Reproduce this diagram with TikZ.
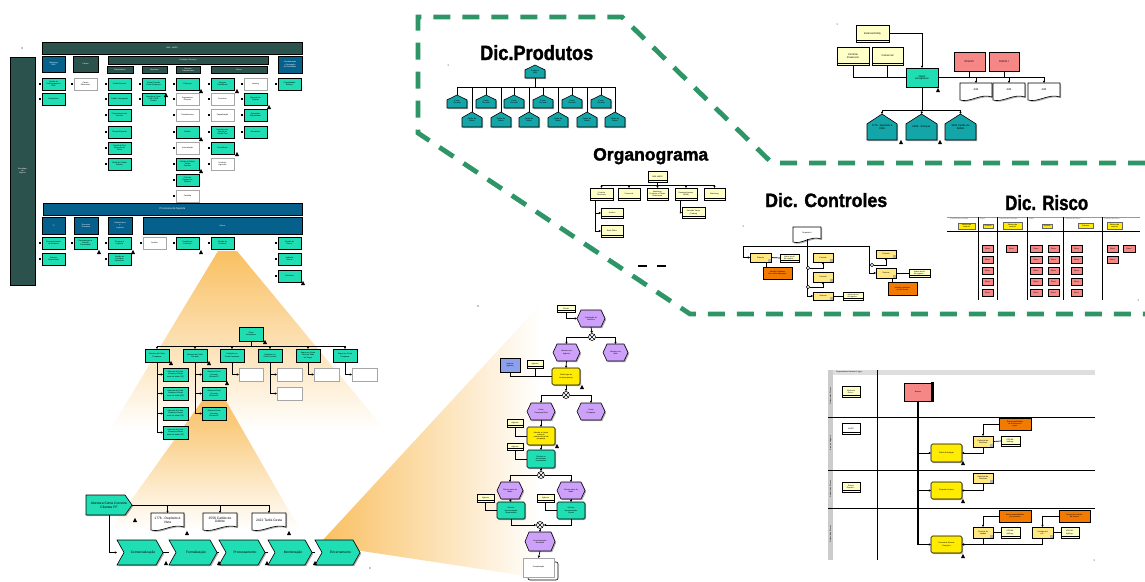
\documentclass[tikz,border=0pt]{standalone}
\usepackage{fontspec}
\setmainfont{Liberation Sans}
\newfontfamily\heavy[BoldFeatures={FakeBold=1.6}]{Liberation Sans}
\usepackage{graphicx}
\usetikzlibrary{arrows.meta,shadows,calc}
\definecolor{fng}{RGB}{32,222,180}
\definecolor{dkt}{RGB}{44,82,78}
\definecolor{blu}{RGB}{6,96,140}
\definecolor{tea}{RGB}{20,165,168}
\definecolor{pyl}{RGB}{255,255,200}
\definecolor{pur}{RGB}{205,160,250}
\definecolor{yel}{RGB}{255,236,0}
\definecolor{lyl}{RGB}{255,232,130}
\definecolor{org}{RGB}{243,122,0}
\definecolor{pnk}{RGB}{245,135,135}
\definecolor{sysb}{RGB}{140,160,235}
\definecolor{dgr}{RGB}{46,150,102}
\definecolor{cone}{RGB}{249,192,98}
\newcommand\fA{\fontsize{1.9}{2.2}\selectfont}
\newcommand\fB{\fontsize{2.6}{3}\selectfont}
\newcommand\fC{\fontsize{3.3}{3.8}\selectfont}
\newcommand\bx[7]{\node[#1,minimum width={(#5)-(#3)},minimum height={(#6)-(#4)}] (#2) at ({((#3)+(#5))/2},{((#4)+(#6))/2}) {#7};}
\newcommand\gb[5]{\bx{#1}{#2}{#3}{#4}{#3+23}{#4+12}{#5}\fill (#3-3.5,#4+5) rectangle (#3-1,#4+7);}
\newcommand\shp[2]{\fill[black!45,opacity=0.7,shift={(1.2,1.2)}] #2;\draw[line width=0.6pt,#1] #2;}
\newcommand\evnt[6]{\pgfmathsetmacro\ym{((#3)+(#5))/2}%
 \shp{fill=pur}{(#2,\ym) -- (#2+4,#3) -- (#4-4,#3) -- (#4,\ym) -- (#4-4,#5) -- (#2+4,#5) -- cycle}%
 \node[base,minimum width={(#4)-(#2)},minimum height={(#5)-(#3)}] (#1) at ({((#2)+(#4))/2},\ym) {#6};}
\newcommand\chv[6]{\pgfmathsetmacro\ym{((#3)+(#5))/2}%
 \shp{fill=fng}{(#2,#3) -- (#4-7,#3) -- (#4,\ym) -- (#4-7,#5) -- (#2,#5) -- (#2+7,\ym) -- cycle}%
 \node[base,font=\fC,minimum width={(#4)-(#2)},minimum height={(#5)-(#3)}] (#1) at ({((#2)+(#4))/2+3},\ym) {#6};}
\newcommand\pnt[6]{\pgfmathsetmacro\ym{((#3)+(#5))/2}%
 \shp{fill=fng}{(#2,#3) -- (#4-7,#3) -- (#4,\ym) -- (#4-7,#5) -- (#2,#5) -- cycle}%
 \node[base,font=\fC,minimum width={(#4)-(#2)},minimum height={(#5)-(#3)}] (#1) at ({((#2)+(#4))/2},\ym) {#6};}
\newcommand\docu[6]{\pgfmathsetmacro\xa{(#2)+0.3*((#4)-(#2))}\pgfmathsetmacro\xb{(#2)+0.65*((#4)-(#2))}%
 \shp{fill=white}{(#2,#3) -- (#4,#3) -- (#4,#5-3) .. controls (\xb,#5-7) and (\xa,#5+3) .. (#2,#5) -- cycle}%
 \node[base,minimum width={(#4)-(#2)},minimum height={(#5)-(#3)-3}] (#1) at ({((#2)+(#4))/2},{((#3)+(#5)-3)/2}) {#6};}
\newcommand\hous[7]{\pgfmathsetmacro\hxm{((#3)+(#5))/2}\pgfmathsetmacro\hya{(#4)+0.38*((#6)-(#4))}%
 \shp{fill=#1}{(#3,#6) -- (#3,\hya) -- (\hxm,#4) -- (#5,\hya) -- (#5,#6) -- cycle}%
 \node[base,minimum width={(#5)-(#3)},minimum height={(#6)-(#4)}] (#2) at (\hxm,{((#4)+(#6))/2}) {#7};}
\newcommand\xorc[3]{\node[circle,draw,fill=white,line width=0.6pt,minimum size=7pt,inner sep=0pt] (#1) at (#2,#3) {};\draw[line width=0.5pt] (#1.north west) -- (#1.south east) (#1.north east) -- (#1.south west);}
\newcommand\trg[2]{\fill (#1-2,#2+2) -- (#1+2,#2+2) -- (#1,#2-2.2) -- cycle;}
\begin{document}
\begin{tikzpicture}[x=1pt,y=-1pt,
 base/.style={inner sep=0.2pt,outer sep=0pt,align=center,font=\fA},
 sh/.style={drop shadow={shadow xshift=1.2pt,shadow yshift=-1.2pt,fill=black!45,opacity=0.7}},
 hdr/.style={base,draw=black,line width=0.5pt,fill=dkt,text=white,sh},
 hdrb/.style={base,draw=black,line width=0.5pt,fill=blu,text=white,sh},
 fg/.style={base,draw=black,line width=0.6pt,fill=fng,sh},
 fgr/.style={fg,rounded corners=1.5pt},
 fw/.style={base,draw=black!35,line width=0.8pt,fill=white,sh},
 fy/.style={base,draw=black,line width=0.6pt,fill=yel,rounded corners=1.5pt,sh},
 ent/.style={base,draw=black,line width=0.5pt,fill=pyl,sh,path picture={\draw[line width=0.3pt] ([yshift=1.4pt]path picture bounding box.south west) -- ([yshift=1.4pt]path picture bounding box.south east);}},
 entw/.style={ent,fill=white},
 lyb/.style={base,draw=black,line width=0.6pt,fill=lyl,sh,path picture={\fill[black!30] ([xshift=-3pt,yshift=3pt]path picture bounding box.south east) rectangle (path picture bounding box.south east);}},
 orb/.style={base,draw=black,line width=0.6pt,fill=org,sh},
 pk/.style={base,draw=black,line width=0.6pt,fill=pnk,sh},
 hy/.style={base,draw=black!60,line width=0.4pt,fill=yel,sh},
 sys/.style={base,draw=black,line width=0.9pt,fill=sysb,sh},
 con/.style={draw=black,line width=0.7pt},
 arr/.style={con,-{Triangle[length=2.2pt,width=2.2pt]}},
 ttl/.style={anchor=base west,inner sep=0pt,font=\heavy\bfseries},
]
\fill[white] (0,0) rectangle (1145,581);
\useasboundingbox (0,0) rectangle (1145,581);

% ---------- highlight cones ----------
\shade[top color=cone,bottom color=white] (218,251) -- (237,251) -- (385,430) -- (110,430) -- cycle;
\shade[top color=cone,bottom color=white] (202,401) -- (226,401) -- (300,530) -- (110,530) -- cycle;
\shade[left color=cone,right color=white] (322,541) -- (540,305) -- (540,578) -- (362,551) -- cycle;

% ---------- dashed frame ----------
\draw[dgr,line width=4.8pt,dash pattern=on 17pt off 12pt] (1145,163) -- (772,163) -- (622,17) -- (418,17) -- (418,133) -- (690,314) -- (1145,314);

% ---------- top-left chart ----------
\bx{hdr}{abn}{42}{42}{302}{54}{ABN - AMRO}
\bx{hdr}{est}{10}{57}{35}{285}{Estratégia\\de\\Negócio}
\bx{hdrb}{mkt}{42}{56}{65}{72}{Marketing\\PME}
\bx{hdr}{can}{73}{56}{98}{72}{Canais}
\bx{hdr}{pes}{108}{56}{268}{64}{Produtos e Serviços}
\bx{hdrb}{cdr}{278}{56}{302}{73}{Contabilização\\e Divulgação\\de Resultados}
\bx{hdr}{emp}{107}{66}{133}{73}{Empréstimos}
\bx{hdr}{dep}{142}{66}{167}{73}{Depósitos}
\bx{hdr}{stx}{176}{66}{200}{73}{Serviços\\Transacionais}
\bx{hdr}{out}{211}{66}{267}{73}{Outros}
\gb{fg}{ga1}{42}{78}{Gestão de\\Relacionamento\\PME}
\gb{fg}{ga2}{42}{93}{Campanhas}
\gb{fw}{gb1}{74}{78}{Canais\\Eletrônicos}
\gb{fg}{ge1}{108}{78}{Crédito Pessoal}
\gb{fg}{ge2}{108}{93}{Crédito Consignado}
\gb{fg}{ge3}{108}{109}{Financiamento de\\Veículos}
\gb{fg}{ge4}{108}{126}{Cheque Especial}
\gb{fg}{ge5}{108}{142}{Capital de Giro\\Desconto de\\Títulos}
\gb{fg}{ge6}{108}{158}{Cartão de Crédito\\Rotativo}
\gb{fg}{gd1}{142}{78}{Conta Corrente\\Conta Poupança}
\gb{fg}{gd2}{142}{93}{Depósito a Prazo\\CDB / RDB\\Fundos}
\gb{fg}{gs1}{176}{78}{Cobrança}
\gb{fw}{gs2}{176}{93}{Pagamentos\\Diversos}
\gb{fw}{gs3}{176}{109}{Transferências}
\gb{fg}{gs4}{176}{126}{Câmbio}
\gb{fw}{gs5}{176}{142}{Arrecadação}
\gb{fg}{gs6}{176}{158}{Cartão de Débito\\Tarifas\\Pacotes}
\gb{fg}{gs7}{176}{174}{Folha de\\Pagamento\\Salários}
\gb{fw}{gs8}{176}{190}{Custódia}
\gb{fg}{go1}{211}{78}{Seguros\\Previdência}
\gb{fw}{go2}{211}{93}{Consórcio}
\gb{fw}{go3}{211}{109}{Capitalização}
\gb{fg}{go4}{211}{126}{Investimentos\\Fundos de\\Renda Fixa}
\gb{fg}{go5}{211}{142}{Previdência}
\gb{fw}{go6}{211}{158}{Produtos\\Agrícolas}
\gb{fw}{gp1}{244}{78}{Leasing}
\gb{fg}{gp2}{244}{93}{Mercado de\\Capitais}
\gb{fg}{gp3}{244}{109}{Operações\\Estruturadas}
\gb{fg}{gp4}{244}{126}{Derivativos}
\gb{fg}{gq1}{278}{78}{Contabilidade\\Balanço}
\bx{hdrb}{sup}{43}{203}{302}{215}{\fB Processos de Suporte}
\bx{hdrb}{ti}{42}{217}{65}{234}{TI}
\bx{hdrb}{rh}{74}{217}{98}{234}{Recursos\\Humanos}
\bx{hdrb}{inf}{108}{217}{132}{234}{Infraestrutura\\e\\Logística}
\bx{hdrb}{ou2}{143}{217}{302}{234}{Outros}
\gb{fg}{sa1}{42}{237}{Desenvolvimento\\de Sistemas}
\gb{fg}{sa2}{42}{253}{Suporte\\Operacional}
\gb{fg}{sb1}{74}{237}{Recrutamento e\\Seleção\\Treinamento}
\gb{fg}{sc1}{108}{237}{Compras e\\Logística}
\gb{fg}{sc2}{108}{253}{Gestão de\\Contratos\\Patrimônio}
\gb{fw}{sd1}{143}{237}{Jurídico}
\gb{fg}{sd2}{176}{237}{Compliance\\Controles}
\gb{fg}{sd3}{211}{237}{Gestão de\\Produtos}
\gb{fg}{sd4}{278}{237}{Gestão de\\Riscos}
\gb{fg}{sd5}{278}{253}{Auditoria\\Interna}
\gb{fg}{sd6}{278}{270}{Ouvidoria}
\trg{201}{91}\trg{166}{95}\trg{201}{139}\trg{201}{171}\trg{237}{91}\trg{269}{107}\trg{237}{154}
\trg{99}{252}\trg{133}{252}\trg{201}{252}\trg{303}{283}
\fill (22,48) circle (0.7);

% ---------- middle tree ----------
\bx{fg}{ca}{239}{327}{263}{341}{Client\\Acceptance}
\bx{fg}{n1}{145}{349}{169}{362}{Abertura de Conta\\Poupança}
\bx{fg}{n2}{183}{349}{207}{362}{Abertura de Conta\\Corrente}
\bx{fg}{n3}{220}{349}{244}{362}{Depósito em\\Conta Poupança}
\bx{fg}{n4}{258}{349}{282}{362}{Depósito em\\Conta Corrente}
\bx{fg}{n5}{296}{349}{320}{362}{Saque em Conta\\Corrente Talão\\de Saque}
\bx{fg}{n6}{333}{349}{357}{362}{Saque em Conta\\Poupança}
\coordinate (tb) at (251,346);
\draw[con] (ca.south) -- (tb);
\foreach \nn in {n1,n2,n3,n4,n5,n6} {\draw[arr] (tb) -| (\nn.north);}
\foreach \i/\ya in {1/368,2/387,3/407,4/426} {\bx{fg}{ma\i}{163}{\ya}{188}{\ya+13}{Abertura de Conta\\Poupança Cliente\\maior de idade (PF)}\draw[arr] (n1.south) |- (ma\i.west);}
\foreach \i/\ya in {1/368,2/387,3/407} {\bx{fg}{mb\i}{202}{\ya}{226}{\ya+13}{Abertura Conta\\Corrente\\Clientes PF}\draw[arr] (n2.south) |- (mb\i.west);}
\bx{fw}{mc1}{239}{368}{263}{381}{}
\draw[arr] (n3.south) |- (mc1.west);
\bx{fw}{md1}{277}{368}{302}{381}{}
\bx{fw}{md2}{277}{387}{302}{400}{}
\draw[arr] (n4.south) |- (md1.west);
\draw[arr] (n4.south) |- (md2.west);
\bx{fw}{me1}{314}{368}{339}{381}{}
\draw[arr] (n5.south) |- (me1.west);
\bx{fw}{mf1}{352}{368}{377}{381}{}
\draw[arr] (n6.south) |- (mf1.west);
\trg{171}{363}\trg{209}{363}\trg{227}{383}\trg{265}{342}

% ---------- process chain ----------
\pnt{ab}{86}{495}{132}{515}{Abertura Conta Corrente\\Clientes PF}
\docu{pd1}{151}{513}{184}{530}{\fC 1776 - Depósito à\\\fC Vista}
\docu{pd2}{203}{513}{237}{530}{\fC 2558 Cartão de\\\fC Débito}
\docu{pd3}{252}{513}{286}{530}{\fC 2422 Tarifa Cesta}
\draw[arr] (ab.east) -| (pd1.north);
\draw[arr] (ab.east) -| (pd2.north);
\draw[arr] (ab.east) -| (pd3.north);
\chv{ch1}{117}{540}{163}{565}{Comercialização}
\chv{ch2}{169}{540}{217}{565}{Formalização}
\chv{ch3}{219}{540}{265}{565}{Processamento}
\chv{ch4}{268}{540}{312}{565}{Monitoração}
\chv{ch5}{315}{540}{360}{565}{Encerramento}
\draw[arr] (ab.south) |- ([xshift=-3pt]ch1.west);
\draw[con] ([xshift=-3pt]ch1.east) -- ([xshift=-3pt]ch2.west);
\draw[con] ([xshift=-3pt]ch2.east) -- ([xshift=-3pt]ch3.west);
\draw[con] ([xshift=-3pt]ch3.east) -- ([xshift=-3pt]ch4.west);
\draw[con] ([xshift=-3pt]ch4.east) -- ([xshift=-3pt]ch5.west);
\trg{166}{563}\trg{219}{563}\trg{267}{563}\trg{315}{563}\trg{135}{520}\trg{187}{533}\trg{289}{533}
\fill (370,568) circle (0.6);

% ---------- EPC ----------
\bx{ent}{cli}{557}{305}{575}{312}{Cliente}
\evnt{e1}{577}{310}{605}{327}{Solicitação de\\Abertura}
\xorc{x1}{592}{337}
\evnt{e2}{553}{344}{580}{361}{Abertura via\\Agência}
\evnt{e3}{603}{344}{628}{361}{Abertura via\\Web}
\bx{sys}{sy}{500}{358}{520}{372}{Sistema\\Agência}
\bx{ent}{ag1}{527}{360}{543}{368}{Agência}
\bx{fy}{f1}{552}{368}{580}{385}{Definir tipo da\\conta poupança}
\xorc{x2}{566}{395}
\evnt{e4}{527}{403}{555}{420}{Conta\\Poupança Real}
\evnt{e5}{577}{403}{605}{420}{Conta\\Poupança}
\bx{ent}{ag2}{507}{419}{523}{427}{Agência}
\bx{fy}{f2}{527}{427}{555}{445}{Atender o cliente\\sobre as\\características da\\poupança}
\bx{ent}{ag3}{507}{443}{523}{450}{Agência}
\bx{fgr}{f3}{527}{450}{555}{468}{Solicitar os\\documentos\\necessários}
\xorc{x3}{541}{475}
\evnt{e6}{497}{482}{523}{499}{Cliente maior de\\idade}
\evnt{e7}{557}{482}{585}{499}{Cliente maior de\\idade}
\bx{ent}{ag4}{477}{494}{494}{502}{Agência}
\bx{ent}{ag5}{537}{494}{554}{502}{Agência}
\bx{fgr}{f4}{497}{502}{525}{519}{Solicitar\\documentação\\Responsável}
\bx{fgr}{f5}{557}{502}{585}{519}{Solicitar\\documentação\\Cliente}
\xorc{x4}{540}{525}
\evnt{e8}{525}{532}{555}{551}{Documentação\\Recebida}
\draw[line width=0.6pt,fill=white,rounded corners=2pt] (528,562) rectangle (558,580);
\bx{fw}{pif}{523}{558}{554}{577}{Formalização}
\draw[arr] (cli.south) |- (e1.west);
\draw[arr] (e1.south) -- (x1.north);
\draw[arr] (x1.west) -| (e2.north);
\draw[arr] (x1.east) -| (e3.north);
\draw[arr] (e2.south) -- (f1.north);
\draw[con] (sy.south) |- (f1.west);
\draw[con] (ag1.south) |- (f1.west);
\draw[arr] (f1.south) -- (x2.north);
\draw[arr] (x2.west) -| (e4.north);
\draw[arr] (x2.east) -| (e5.north);
\draw[arr] (e4.south) -- (f2.north);
\draw[con] (ag2.south) |- (f2.west);
\draw[arr] (f2.south) -- (f3.north);
\draw[con] (ag3.south) |- (f3.west);
\draw[arr] (f3.south) -- (x3.north);
\draw[arr] (x3.west) -| (e6.north);
\draw[arr] (x3.east) -| (e7.north);
\draw[arr] (e6.south) -- (f4.north);
\draw[arr] (e7.south) -- (f5.north);
\draw[con] (ag4.south) |- (f4.west);
\draw[con] (ag5.south) |- (f5.west);
\draw[arr] (f4.south) |- (x4.west);
\draw[arr] (f5.south) |- (x4.east);
\draw[arr] (x4.south) -- (e8.north);
\draw[arr] (e8.south) -- (pif.north);
\trg{582}{387}\trg{557}{446}
\fill (478,306) circle (0.6);

% ---------- Dic.Produtos ----------
\node[ttl] (tdp) at (480,60) {\resizebox{113pt}{15pt}{Dic.Produtos}};
\hous{tea}{P0}{525}{65}{545}{78}{Produtos\\ABN}
\foreach \i/\xx in {1/447,2/476,3/504,4/533,5/562,6/591} {\hous{tea}{pr\i}{\xx}{95}{\xx+20}{108}{Conta\\Corrente}}
\foreach \i/\xx in {1/462,2/491,3/519,4/548,5/577,6/605} {\hous{tea}{ps\i}{\xx}{112}{\xx+20}{127}{Cartão de\\Débito}}
\coordinate (pb) at (535,87);
\draw[con] (P0.south) -- (pb);
\foreach \i in {1,...,6} {\draw[con] (pb) -| (pr\i.north);\draw[con] (pb) -| (ps\i.north);}
\fill (448,65) circle (0.5);

% ---------- top right ----------
\bx{ent}{ee}{856}{25}{889}{42}{\fB External Entity}
\bx{ent}{cf}{837}{47}{869}{65}{\fB Controle\\\fB Financeiro}
\bx{ent}{cm}{872}{47}{903}{65}{\fB Comercial}
\bx{fg}{ca2}{906}{68}{938}{87}{\fB Client\\\fB Acceptance}
\bx{pk}{r1}{954}{52}{985}{71}{\fB RISCO I}
\bx{pk}{r2}{989}{52}{1019}{71}{\fB RISCO I}
\docu{aim1}{960}{83}{992}{100}{\fB AIM}
\docu{aim2}{993}{83}{1025}{100}{\fB AIM}
\docu{aim3}{1028}{83}{1060}{100}{\fB AIM}
\hous{tea}{h1}{867}{114}{897}{140}{\fB 1776 - Depósito à\\\fB Vista}
\hous{tea}{h2}{906}{114}{937}{140}{\fB 2099 - Serviços}
\hous{tea}{h3}{945}{114}{976}{140}{\fB 2504 Cartão de\\\fB Débito}
\draw[arr] (ee.east) -| (ca2.north);
\draw[con] (cf.south) |- (ca2.west);
\draw[con] (cm.south) |- (ca2.west);
\draw[arr] (ca2.east) -| (aim1.north);
\draw[arr] (ca2.east) -| (aim2.north);
\draw[arr] (ca2.east) -| (aim3.north);
\draw[con] (r1.south) -- (r1.south |- ca2.east);
\draw[con] (r2.south) -- (r2.south |- ca2.east);
\coordinate (cb) at (922,110);
\draw[con,line width=1pt] (ca2.south) -- (cb);
\draw[arr] (cb) -| (h1.north);
\draw[arr] (cb) -- (h2.north);
\draw[arr] (cb) -| (h3.north);
\trg{938}{90}\trg{901}{142}\trg{940}{142}
\fill (837,24) circle (0.5);

% ---------- Organograma ----------
\node[ttl] (tor) at (593,160.5) {\resizebox{115pt}{12.4pt}{Organograma}};
\bx{ent}{o0}{648}{171}{667}{182}{ABN AMRO}
\bx{ent}{o1}{590}{188}{613}{200}{Controle\\Financeiro}
\bx{ent}{o2}{618}{188}{640}{200}{Comercial}
\bx{ent}{o3}{647}{188}{668}{200}{Marketing,\\Produtos e Canais\\Relacionais}
\bx{ent}{o4}{675}{188}{697}{200}{Desenvolvimento\\(BUM)}
\bx{ent}{o5}{704}{188}{725}{200}{Marketing}
\bx{ent}{o11}{601}{208}{623}{218}{Jurídico}
\bx{ent}{o12}{601}{225}{623}{237}{Back Office}
\bx{ent}{o41}{682}{207}{705}{218}{Mercado Varejo\\(Trading)}
\coordinate (ob) at (657.5,185);
\draw[con] (o0.south) -- (ob);
\foreach \nn in {o1,o2,o3,o4,o5} {\draw[arr] (ob) -| (\nn.north);}
\draw[arr] ([xshift=-6pt]o1.south) |- (o11.west);
\draw[arr] ([xshift=-6pt]o1.south) |- (o12.west);
\draw[arr] ([xshift=-6pt]o4.south) |- (o41.west);
\draw[line width=1.2pt] (638,266) -- (647,266) (657,266) -- (666,266);

% ---------- Dic. Controles ----------
\node[ttl] (tdc) at (765,207) {\resizebox{122pt}{14pt}{Dic. Controles}};
\docu{tmpl}{793}{227}{821}{242}{Template A}
\coordinate (kl) at (743,246);
\coordinate (kr) at (869,246);
\draw[con] (kl) -- (kr);
\bx{lyb}{k1}{750}{253}{771}{262}{Sistema}
\bx{ent}{k1b}{780}{254}{799}{262}{Ações de ctrl\\de registro...}
\bx{orb}{k1o}{763}{267}{792}{279}{Identify \& address\\the control adequacy}
\bx{lyb}{m1}{813}{253}{833}{262}{Controle}
\bx{lyb}{m2}{813}{272}{833}{282}{Controle}
\bx{lyb}{m3}{813}{292}{833}{300}{Sistema}
\bx{ent}{m3b}{843}{292}{863}{300}{Ações de ctrl\\de registro...}
\bx{lyb}{q1}{876}{250}{896}{258}{Controle}
\bx{lyb}{q2}{876}{268}{896}{278}{Sistema}
\bx{ent}{q2b}{909}{269}{930}{277}{Ações de ctrl\\de registro...}
\bx{orb}{q2o}{888}{282}{917}{295}{Identify significant\\control issues}
\draw[arr] (kl) |- (k1.west);
\draw[arr] (kr) |- (q2.west);
\draw[arr] (tmpl.south) |- (m3.west);
\draw[con] (k1.east) -- (k1b.west);
\draw[con] ([xshift=6pt]k1.south) -- ([xshift=6pt]k1.south |- k1o.north);
\node[circle,draw,fill=white,line width=0.4pt,minimum size=3.5pt,inner sep=0pt] (cc1) at (808,268) {};
\node[circle,draw,fill=white,line width=0.4pt,minimum size=3.5pt,inner sep=0pt] (cc2) at (808,287) {};
\node[circle,draw,fill=white,line width=0.4pt,minimum size=3.5pt,inner sep=0pt] (cc3) at (872,265) {};
\draw[arr] (cc1) -| (m1.south);
\draw[arr] (cc2) -| (m2.south);
\draw[arr] (cc3) -| (q1.south);
\draw[con] (m3.east) -- (m3b.west);
\draw[con] (q2.east) -- (q2b.west);
\draw[con] ([xshift=6pt]q2.south) -- ([xshift=6pt]q2.south |- q2o.north);
\fill (743,226) circle (0.5);

% ---------- Dic. Risco ----------
\node[ttl] (tdr) at (1005,210) {\resizebox{83pt}{15pt}{Dic. Risco}};
\draw[black!40,line width=0.4pt] (947,217) -- (1140,217);
\draw[line width=1pt] (947,231) -- (1140,231);
\foreach \xx in {978,997,1027,1063,1102} {\draw[line width=0.8pt] (\xx,217) -- (\xx,300);}
\foreach \xx/\lab in {950/Controle de processo,980/Risco,999/Controle de Processo,1029/Risco,1065/Controle de Risco,1104/Controle de Risco} {\node[anchor=west,inner sep=0pt,font=\fA,text=black!60] at (\xx,219) {\lab};}
\bx{hy}{hy1}{958}{223}{975}{229}{Sistema de\\controle}
\bx{hy}{hy2}{983}{224}{993}{228}{Sistema}
\bx{hy}{hy3}{1003}{222}{1022}{229}{Sistema de\\controle}
\bx{hy}{hy4}{1042}{224}{1052}{228}{Sistema}
\bx{hy}{hy5}{1078}{223}{1093}{228}{Sistema}
\bx{hy}{hy6}{1107}{222}{1122}{229}{Sistema de\\controle}
\foreach \yy [count=\k] in {245,256,267,278,289} {\bx{pk}{rb\k}{982}{\yy}{993}{\yy+7}{Risco}\bx{pk}{rd\k}{1030}{\yy}{1042}{\yy+7}{Risco}\bx{pk}{re\k}{1048}{\yy}{1059}{\yy+7}{Risco}\bx{pk}{rf\k}{1071}{\yy}{1082}{\yy+7}{Risco}}
\bx{pk}{rc1}{1006}{245}{1017}{252}{Risco}
\bx{pk}{rg1}{1107}{245}{1118}{252}{Risco}
\bx{pk}{rh1}{1123}{245}{1135}{252}{Risco}
\bx{pk}{rg2}{1107}{256}{1118}{263}{Risco}
\fill (1138,300) circle (0.5);

% ---------- swimlane ----------
\fill[black!20] (828,370) rectangle (833,560);
\fill[black!13] (833,370) rectangle (1095,375);
\node[anchor=west,inner sep=0pt,font=\fA] (swh) at (836,372.5) {Organizational element 4 (typ)...};
\draw[line width=1pt] (877,370) -- (877,560);
\foreach \yy in {417,470,508} {\draw[line width=0.7pt] (828,\yy) -- (1095,\yy);}
\foreach \yy/\lab in {396/Gerência de Riscos,443/Área de Negócio,489/Gerência de Riscos,534/Gerência de Riscos} {\node[rotate=90,font=\fA,inner sep=0pt] at (830.5,\yy) {\lab};}
\bx{ent}{sl1}{842}{386}{860}{397}{Gerência\\Risco...}
\bx{entw}{sl2}{842}{423}{860}{434}{AUDIT}
\bx{ent}{sl3}{842}{482}{860}{492}{Riscos\\Operaci...}
\bx{pk}{bk}{904}{383}{932}{401}{Bancar}
\fill (931,382) rectangle (933.5,402);
\bx{fy}{y1}{931}{444}{962}{462}{Definir Estratégia}
\bx{fy}{y2}{931}{482}{962}{499}{Registrar Arquivo}
\bx{fy}{y3}{931}{536}{962}{553}{Comunicar Revisar\\Projeções}
\bx{lyb}{dd1}{973}{436}{993}{447}{Definição de\\Diretrizes}
\bx{lyb}{dd2}{973}{473}{993}{483}{Definição de\\Diretrizes}
\bx{lyb}{dd3}{973}{527}{993}{538}{Controle de\\Vendas}
\bx{lyb}{dd4}{1032}{527}{1053}{538}{Configuraçã\\o d...}
\bx{ent}{pp1}{1001}{436}{1020}{446}{ATK/Nd -\\Aplfimg...}
\bx{ent}{pp2}{1001}{527}{1020}{538}{ATK/Nd -\\Aplfimg...}
\bx{ent}{pp3}{1061}{527}{1079}{538}{ATK/Nd -\\Aplfimg...}
\bx{orb}{oo1}{999}{418}{1031}{430}{Baixa tratabilidade\\de Processos \&\\pares}
\bx{orb}{oo2}{999}{510}{1031}{522}{Baixa rastreabilidade\\por processo}
\bx{orb}{oo3}{1059}{510}{1090}{522}{Ensaio de controle\\de acesso}
\coordinate (bkb) at (918,545);
\draw[line width=1.3pt] (bk.south) -- (bkb);
\draw[arr] (bk.south) |- (y1.west);
\draw[arr] (bk.south) |- (y2.west);
\draw[arr] (bk.south) |- (y3.west);
\draw[arr] (dd1.south) |- (y1.east);
\draw[arr] (dd2.south) |- (y2.east);
\draw[arr] (dd3.south) |- (y3.east);
\draw[arr] (dd4.south) |- (y3.east);
\draw[con] (dd1.east) -- (pp1.west);
\draw[con] (dd3.east) -- (pp2.west);
\draw[con] (dd4.east) -- (pp3.west);
\draw[arr] (oo1.west) -| (dd1.north);
\draw[arr] (oo2.west) -| (dd3.north);
\draw[arr] (oo3.west) -| (dd4.north);
\trg{963}{463}\trg{963}{501}\trg{963}{556}
\fill (1094,560) circle (0.5);
\end{tikzpicture}
\end{document}
